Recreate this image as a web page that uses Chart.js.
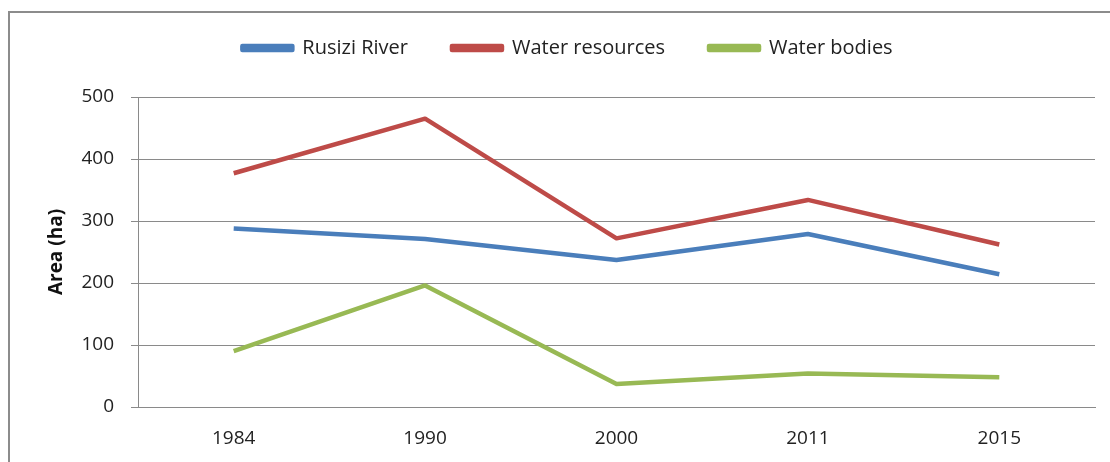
<!DOCTYPE html>
<html>
<head>
<meta charset="utf-8">
<script src="https://cdn.jsdelivr.net/npm/chart.js@4"></script>
<style>
    html, body { margin: 0; padding: 0; background: #fff; overflow: hidden; }
    #frame {
        position: absolute; left: 8px; top: 11px; width: 1200px; height: 600px;
        border: 2px solid #8c8c8c; box-sizing: border-box;
    }
    #wrap { position: absolute; left: 0; top: 0; width: 1110px; height: 462px; }
</style>
</head>
<body>
<div id="frame"></div>
<div id="wrap"><canvas id="myChart"></canvas></div>
<script>
const years = ['1984', '1990', '2000', '2011', '2015']
const rusizi_river = [288, 271, 237, 279, 214]
const water_resources = [377, 465, 272, 334, 262]
const water_bodies = [90, 196, 37, 54, 48]
const y_ticks = [0, 100, 200, 300, 400, 500]

const gray = '#8a8a8a'
const font_family = '"Open Sans", Lato, sans-serif'

// push the plot down under the legend
const legend_gap = {
    id: 'legend_gap',
    beforeInit(chart) {
        const fit = chart.legend.fit
        chart.legend.fit = function () {
            fit.bind(chart.legend)()
            this.height += 29
        }
    }
}

function make_set(label, data, color) {
    return {
        label: label,
        data: data,
        borderColor: color,
        backgroundColor: color,
        borderWidth: 4.5,
        pointRadius: 0,
        tension: 0,
        borderJoinStyle: 'round'
    }
}

var ctx = document.getElementById('myChart').getContext('2d')
new Chart(ctx, {
    type: 'line',
    data: {
        labels: years,
        datasets: [
            make_set('Rusizi River', rusizi_river, '#4a7ebb'),
            make_set('Water resources', water_resources, '#be4b48'),
            make_set('Water bodies', water_bodies, '#98b954')
        ]
    },
    plugins: [legend_gap],
    options: {
        responsive: true,
        maintainAspectRatio: false,
        animation: false,
        layout: { padding: { left: 40, right: 15, top: -6, bottom: 0 } },
        plugins: {
            tooltip: { enabled: false },
            legend: {
                position: 'top',
                labels: {
                    boxWidth: 50,
                    boxHeight: 4,
                    padding: 44,
                    color: '#222',
                    font: { family: font_family, size: 20 }
                }
            }
        },
        scales: {
            x: {
                offset: true,
                grid: { display: false },
                border: { display: true, color: gray, width: 1 },
                ticks: { color: '#222', padding: 12, font: { family: font_family, size: 19 } },
                afterFit(axis) {
                    axis.height = 55
                }
            },
            y: {
                min: 0,
                max: 500,
                afterBuildTicks(axis) {
                    axis.ticks = y_ticks.map(v => ({ value: v }))
                },
                afterFit(axis) {
                    axis.width = 98
                },
                grid: { color: gray, lineWidth: 1, tickLength: 7 },
                border: { display: true, color: gray, width: 1 },
                ticks: { color: '#222', padding: 17, font: { family: font_family, size: 19 } },
                title: {
                    display: true,
                    text: 'Area (ha)',
                    color: '#111',
                    padding: { top: 5, bottom: 0 },
                    font: { family: font_family, size: 19, weight: 'bold' }
                }
            }
        }
    }
})
</script>
</body>
</html>
